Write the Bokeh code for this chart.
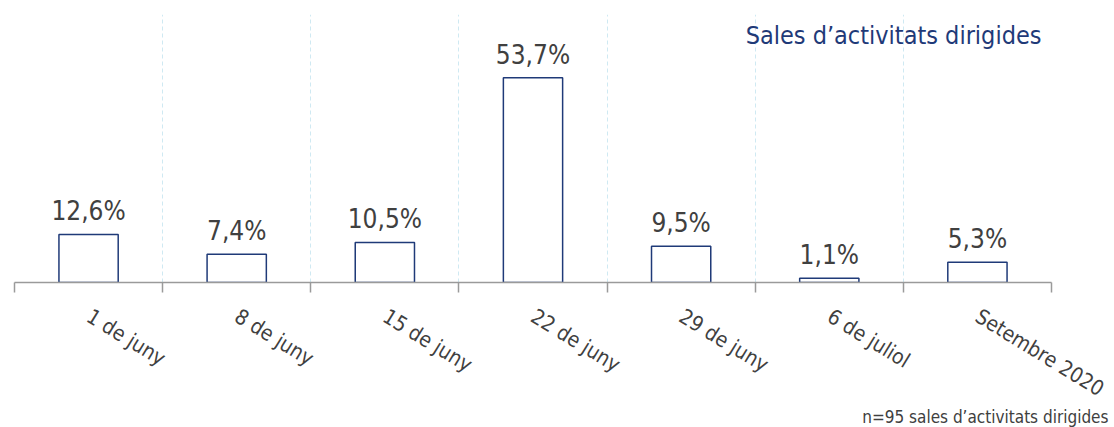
from bokeh.plotting import figure
from bokeh.models import FixedTicker, LinearAxis, Label, ColumnDataSource, Range1d, Title
from bokeh.core.properties import value
from bokeh.embed import file_html
from bokeh.resources import INLINE

categories = ["1 de juny", "8 de juny", "15 de juny", "22 de juny", "29 de juny", "6 de juliol", "Setembre 2020"]
values = [12.6, 7.4, 10.5, 53.7, 9.5, 1.1, 5.3]
title_text = "Sales d\u2019activitats dirigides"
note_text = "n=95 sales d\u2019activitats dirigides"

FONT = "DejaVu Sans Condensed, Roboto"
NAVY = "#1f3a78"
GREY_TXT = "#404040"

n = len(categories)
xs = [i + 0.5 for i in range(n)]
labels = [f"{v:.1f}".replace(".", ",") + "%" for v in values]
src = ColumnDataSource(dict(x=xs, top=values, label=labels))

p = figure(width=1114, height=427, output_backend="svg", toolbar_location=None,
           x_range=Range1d(0, n), y_range=Range1d(0, 70.3),
           min_border_left=14, min_border_right=63, min_border_top=14, min_border_bottom=145,
           x_axis_location=None, y_axis_location=None)
p.outline_line_color = None
p.background_fill_color = "white"
p.border_fill_color = "white"

p.ygrid.visible = False
p.xgrid.ticker = FixedTicker(ticks=list(range(n + 1)))
p.xgrid.grid_line_color = "#cfe9f2"
p.xgrid.grid_line_dash = "4 3"
p.xgrid.grid_line_width = 1

p.vbar(x="x", top="top", bottom=0, width=0.4, source=src,
       fill_color="white", line_color=NAVY, line_width=1.5)

p.text(x="x", y="top", text="label", source=src, text_align="center", text_baseline="bottom",
       y_offset=-8, text_font=value(FONT), text_font_size="26px", text_color=GREY_TXT)

ax1 = LinearAxis(ticker=FixedTicker(ticks=list(range(n + 1))))
ax1.axis_line_color = "#9a9a9a"
ax1.axis_line_width = 1.5
ax1.major_tick_line_color = "#9a9a9a"
ax1.major_tick_line_width = 1.5
ax1.major_tick_in = 0
ax1.major_tick_out = 10
ax1.minor_tick_line_color = None
ax1.major_label_text_font_size = "0px"
ax1.major_label_standoff = 0
ax1.major_label_overrides = {i: "" for i in range(n + 1)}
p.add_layout(ax1, "below")

ax2 = LinearAxis(ticker=FixedTicker(ticks=xs))
ax2.axis_line_color = None
ax2.major_tick_line_color = None
ax2.minor_tick_line_color = None
ax2.major_label_overrides = {x: c for x, c in zip(xs, categories)}
ax2.major_label_orientation = -0.55
ax2.major_label_text_font = FONT
ax2.major_label_text_font_size = "21px"
ax2.major_label_text_color = GREY_TXT
ax2.major_label_standoff = 16
p.add_layout(ax2, "below")

p.add_layout(Title(text=note_text, align="right", vertical_align="top", text_font=FONT,
                   text_font_size="17px", text_color=GREY_TXT, text_font_style="normal",
                   offset=-57, standoff=-16), "below")

p.add_layout(Label(x=n, y=64.8, text=title_text, text_align="right", text_baseline="middle",
                   x_offset=-10, text_font=FONT, text_font_size="25px", text_color=NAVY))

open("out.html", "w").write(file_html(p, INLINE))
